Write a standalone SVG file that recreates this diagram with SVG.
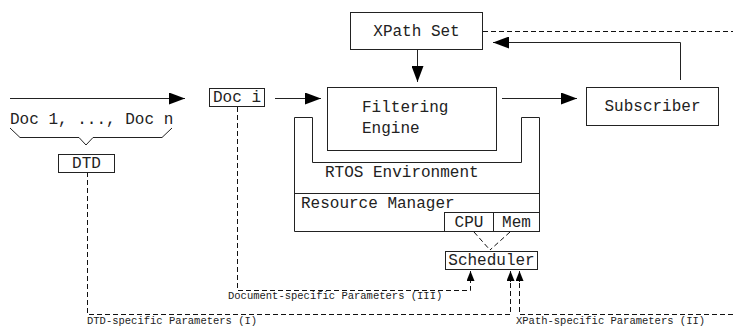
<svg xmlns="http://www.w3.org/2000/svg" width="733" height="328" viewBox="0 0 733 328">
  <style>
    .box { fill: #fff; stroke: #222; stroke-width: 1; }
    .ln { fill: none; stroke: #222; stroke-width: 1; }
    .dash { fill: none; stroke: #111; stroke-width: 1; stroke-dasharray: 5 3; }
    .t { font-family: "Liberation Mono", "Courier New", monospace; font-size: 16px; fill: #222; }
    .s { font-family: "Liberation Mono", "Courier New", monospace; font-size: 10.5px; fill: #222; }
    .c { text-anchor: middle; }
  </style>
  <defs>
    <marker id="big" viewBox="0 0 16 12" refX="16" refY="6" markerWidth="16" markerHeight="12" markerUnits="userSpaceOnUse" orient="auto">
      <path d="M0,0 L16,6 L0,12 Z" fill="#000"/>
    </marker>
    <marker id="small" viewBox="0 0 10 8" refX="10" refY="4" markerWidth="10" markerHeight="8" markerUnits="userSpaceOnUse" orient="auto">
      <path d="M0,0 L10,4 L0,8 Z" fill="#000"/>
    </marker>
  </defs>

  <!-- connectors -->
  <g id="connectors">
    <line class="ln" x1="10" y1="98.5" x2="185" y2="98.5" marker-end="url(#big)"/>
    <line class="ln" x1="275" y1="98.5" x2="321" y2="98.5" marker-end="url(#big)"/>
    <line class="ln" x1="502" y1="98.5" x2="577" y2="98.5" marker-end="url(#big)"/>
    <line class="ln" x1="417.5" y1="50" x2="417.5" y2="82" marker-end="url(#big)"/>
    <polyline class="ln" points="680.5,80 680.5,42.5 493,42.5" marker-end="url(#big)"/>
    <line class="dash" x1="483" y1="31.5" x2="733" y2="31.5" stroke="#555"/>
    <!-- brace under the document stream -->
    <polyline class="ln" points="10,128 20,137.5 79,137.5 86,145 93,137.5 162,137.5 172,128"/>
    <!-- resource links to scheduler -->
    <line class="dash" x1="474" y1="232" x2="490" y2="250"/>
    <line class="dash" x1="510" y1="232" x2="490" y2="250"/>
    <!-- parameter feeds -->
    <polyline class="dash" points="237.5,107 237.5,290.5 470.5,290.5 470.5,282"/>
    <line class="ln" x1="470.5" y1="282" x2="470.5" y2="271" marker-end="url(#small)"/>
    <polyline class="dash" points="87.5,172 87.5,314.5 510.5,314.5 510.5,282"/>
    <line class="ln" x1="510.5" y1="282" x2="510.5" y2="271" marker-end="url(#small)"/>
    <polyline class="dash" points="733,314.5 519.5,314.5 519.5,282"/>
    <line class="ln" x1="519.5" y1="282" x2="519.5" y2="271" marker-end="url(#small)"/>
  </g>

  <g id="doc-stream">
    <text class="t" x="10" y="124">Doc 1, ..., Doc n</text>
  </g>

  <g id="dtd">
    <rect class="box" x="58.5" y="154.5" width="56" height="18"/>
    <text class="t c" x="86.5" y="168">DTD</text>
  </g>

  <g id="doc-i">
    <rect class="box" x="209.5" y="88.5" width="55" height="18"/>
    <text class="t c" x="237" y="102">Doc i</text>
  </g>

  <g id="xpath-set">
    <rect class="box" x="350.5" y="12.5" width="132" height="37"/>
    <text class="t c" x="416.5" y="36">XPath Set</text>
  </g>

  <g id="rtos">
    <path class="box" d="M294.5,117.5 H312.5 V162.5 H521.5 V117.5 H539.5 V231.5 H294.5 Z"/>
    <text class="t" x="325" y="177">RTOS Environment</text>
  </g>

  <g id="resource-manager">
    <line class="ln" x1="294.5" y1="193.5" x2="539.5" y2="193.5"/>
    <text class="t" x="301" y="208">Resource Manager</text>
  </g>

  <g id="cpu">
    <rect class="box" x="444.5" y="212.5" width="49" height="19"/>
    <text class="t c" x="469" y="227">CPU</text>
  </g>

  <g id="mem">
    <rect class="box" x="493.5" y="212.5" width="46" height="19"/>
    <text class="t c" x="516.5" y="227">Mem</text>
  </g>

  <g id="filtering-engine">
    <rect class="box" x="327.5" y="87.5" width="169" height="63"/>
    <text class="t" x="362" y="112">Filtering</text>
    <text class="t" x="362" y="133">Engine</text>
  </g>

  <g id="subscriber">
    <rect class="box" x="586.5" y="87.5" width="132" height="38"/>
    <text class="t c" x="652.5" y="111">Subscriber</text>
  </g>

  <g id="scheduler">
    <rect class="box" x="445.5" y="251.5" width="92" height="18"/>
    <text class="t c" x="491.5" y="265">Scheduler</text>
  </g>

  <g id="labels">
    <text class="s" x="228" y="299">Document-specific Parameters (III)</text>
    <text class="s" x="87" y="324">DTD-specific Parameters (I)</text>
    <text class="s" x="516" y="324">XPath-specific Parameters (II)</text>
  </g>
</svg>
